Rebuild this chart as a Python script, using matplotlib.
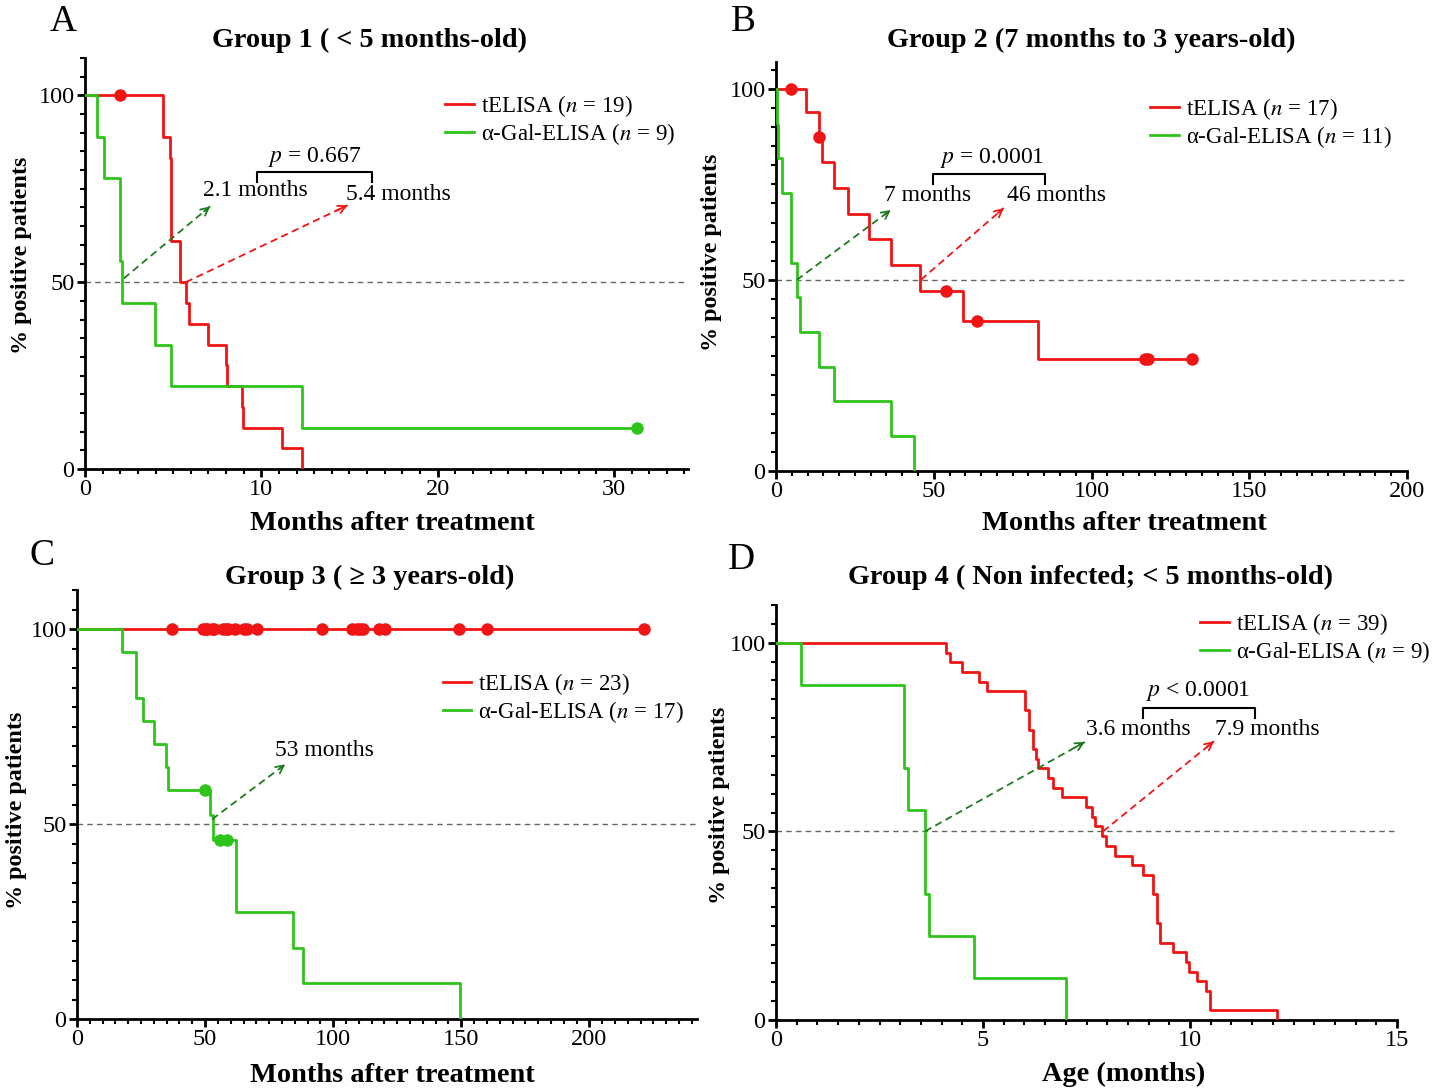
import numpy as np
import matplotlib
matplotlib.use("Agg")
import matplotlib.pyplot as plt

plt.rcParams['font.family'] = ['Liberation Serif', 'DejaVu Serif']
plt.rcParams['mathtext.fontset'] = 'stix'

RED = '#f01414'
GREEN = '#2ec41a'
DKGREEN = '#1f7a1f'

# ---- Group 1 (< 5 months) ----
a_tel_t = [0, 4.44, 4.82, 4.9, 5.38, 5.72, 5.9, 6.95, 8.0, 8.05, 8.91, 8.97, 11.2, 12.3]
a_tel_s = [100, 88.9, 83.3, 61.1, 50.0, 44.4, 38.9, 33.3, 27.8, 22.2, 16.7, 11.1, 5.6, 0]
a_tel_cens_t = [1.98]
a_tel_cens_s = [100]
a_gal_t = [0, 0.66, 1.08, 1.98, 2.08, 3.97, 4.9, 12.3, 31.3]
a_gal_s = [100, 88.9, 77.8, 55.6, 44.4, 33.3, 22.2, 11.1, 11.1]
a_gal_cens_t = [31.3]
a_gal_cens_s = [11.1]

# ---- Group 2 (7 months to 3 years) ----
b_tel_t = [0, 9.5, 13.7, 14.5, 18.5, 22.7, 29.4, 36.6, 45.8, 59.3, 82.9, 131.7]
b_tel_s = [100, 93.8, 87.5, 80.8, 74.0, 67.3, 60.6, 53.8, 47.1, 39.3, 29.4, 29.4]
b_tel_cens_t = [4.65, 13.7, 53.8, 63.7, 116.8, 117.8, 131.7]
b_tel_cens_s = [100, 87.5, 47.1, 39.3, 29.4, 29.4, 29.4]
b_gal_t = [0, 0.4, 0.75, 1.8, 4.65, 6.55, 7.6, 13.7, 18.5, 36.6, 43.7]
b_gal_s = [100, 90.9, 81.8, 72.7, 54.5, 45.5, 36.4, 27.3, 18.2, 9.1, 0]

# ---- Group 3 (>= 3 years) ----
c_tel_t = [0, 221.3]
c_tel_s = [100, 100]
c_tel_cens_t = [37.0, 49.3, 50.2, 50.7, 52.6, 53.5, 57.1, 58.0, 59.1, 61.7, 65.0, 66.3,
                70.2, 95.8, 107.3, 109.3, 110.3, 111.8, 117.7, 120.3, 149.2, 160.2, 221.3]
c_gal_t = [0, 17.7, 22.9, 25.9, 30.1, 34.8, 35.7, 52.0, 52.9, 62.0, 84.2, 88.2, 149.4]
c_gal_s = [100, 94.1, 82.4, 76.5, 70.6, 64.7, 58.8, 52.3, 45.8, 27.5, 18.3, 9.2, 0]
c_gal_cens_t = [50.0, 56.0, 58.5]
c_gal_cens_s = [58.8, 45.8, 45.8]

# ---- Group 4 (non infected, < 5 months) ----
d_tel_t = [0, 4.10, 4.20, 4.50, 4.90, 5.10, 6.01, 6.10, 6.20, 6.27, 6.34, 6.58, 6.68, 6.90,
           7.49, 7.63, 7.71, 7.87, 7.97, 8.19, 8.59, 8.87, 9.10, 9.21, 9.28, 9.60, 9.90,
           9.98, 10.16, 10.39, 10.48, 12.1]
d_tel_s = [100, 97.4, 94.9, 92.3, 89.7, 87.2, 82.1, 76.9, 71.8, 69.2, 66.7, 64.1, 61.5, 59.0,
           56.4, 53.8, 51.3, 48.7, 46.2, 43.6, 41.0, 38.5, 33.3, 25.6, 20.5, 17.9, 15.4,
           12.8, 10.3, 7.7, 2.6, 0]
d_gal_t = [0, 0.6, 3.1, 3.18, 3.6, 3.7, 4.79, 7.0]
d_gal_s = [100, 88.9, 66.7, 55.6, 33.3, 22.2, 11.1, 0]

W, H = 1447, 1089
fig = plt.figure(figsize=(W / 100, H / 100), dpi=100)


def rect(l, r, t, b):
    return [l / W, 1 - b / H, (r - l) / W, (b - t) / H]


def style_axes(ax, xlim, ylim, xmaj, xmin):
    ax.set_xlim(*xlim)
    ax.set_ylim(*ylim)
    for s in ['top', 'right']:
        ax.spines[s].set_visible(False)
    for s in ['left', 'bottom']:
        ax.spines[s].set_linewidth(2)
    ax.set_xticks(np.arange(0, xlim[1] + 1e-6, xmaj))
    ax.set_xticks(np.arange(0, xlim[1] + 1e-6, xmin), minor=True)
    ax.set_yticks([0, 50, 100])
    ax.set_yticks(np.arange(0, ylim[1] + 1e-6, 5), minor=True)
    ax.tick_params(which='major', direction='out', length=6, width=2, labelsize=17.5, pad=1.5)
    ax.tick_params(which='minor', direction='out', length=3.5, width=1.5)
    ax.axhline(50, color='#666666', lw=1, ls=(0, (4, 3)), zorder=1)


def km(ax, t, s, color, label):
    ax.plot(t, s, drawstyle='steps-post', color=color, lw=2, label=label, zorder=3)


def cens(ax, t, s, color):
    ax.plot(t, s, 'o', color=color, ms=8, zorder=4, linestyle='none')


def median_arrow(ax, start, end, color, text, tx, ty):
    ax.plot([start[0], end[0]], [start[1], end[1]], color=color, lw=1.3, ls=(0, (4, 2.5)), zorder=5)
    fx = start[0] + 0.93 * (end[0] - start[0])
    fy = start[1] + 0.93 * (end[1] - start[1])
    ax.annotate('', xy=end, xytext=(fx, fy),
                arrowprops=dict(arrowstyle='->', color=color, lw=1.3, mutation_scale=14,
                                shrinkA=0, shrinkB=0), zorder=5)
    ax.text(tx, ty, text, fontsize=17, ha='center', va='center', zorder=6)


def bracket(ax, x0, x1, y, ylow, ptext, px, py):
    ax.plot([x0, x0, x1, x1], [ylow, y, y, ylow], color='black', lw=1.5, zorder=5)
    ax.text(px, py, ptext, fontsize=17, ha='center', va='center')


def legend(ax, x, y):
    ax.legend(loc='upper left', bbox_to_anchor=(x, y), frameon=False, fontsize=16.5,
              handlelength=1.25, handletextpad=0.3, borderpad=0, borderaxespad=0,
              labelspacing=0.08)


# Panel A
axA = fig.add_axes(rect(85, 688, 58, 469))
style_axes(axA, (0, 34.2), (0, 110), 10, 1)
km(axA, a_tel_t, a_tel_s, RED, 'tELISA ($n$ = 19)')
km(axA, a_gal_t, a_gal_s, GREEN, 'α-Gal-ELISA ($n$ = 9)')
cens(axA, a_tel_cens_t, a_tel_cens_s, RED)
cens(axA, a_gal_cens_t, a_gal_cens_s, GREEN)
median_arrow(axA, (2.2, 51), (7.1, 70.3), DKGREEN, '2.1 months', 9.65, 74.6)
median_arrow(axA, (5.72, 50), (14.9, 70.6), RED, '5.4 months', 17.8, 73.5)
bracket(axA, 9.73, 16.3, 79.5, 76.8, '$p$ = 0.667', 13.0, 83.5)
legend(axA, 0.597, 0.915)

# Panel B
axB = fig.add_axes(rect(776, 1407, 62, 471))
style_axes(axB, (0, 200), (0, 107), 50, 5)
km(axB, b_tel_t, b_tel_s, RED, 'tELISA ($n$ = 17)')
km(axB, b_gal_t, b_gal_s, GREEN, 'α-Gal-ELISA ($n$ = 11)')
cens(axB, b_tel_cens_t, b_tel_cens_s, RED)
median_arrow(axB, (6.6, 50), (36.4, 68.3), DKGREEN, '7 months', 48.1, 72)
median_arrow(axB, (45.9, 50), (72.2, 68.8), RED, '46 months', 89, 72)
bracket(axB, 49.7, 85.2, 77.7, 75.1, '$p$ = 0.0001', 68.4, 82)
legend(axB, 0.593, 0.916)

# Panel C
axC = fig.add_axes(rect(77, 697, 590, 1019))
style_axes(axC, (0, 242), (0, 110), 50, 5)
km(axC, c_tel_t, c_tel_s, RED, 'tELISA ($n$ = 23)')
km(axC, c_gal_t, c_gal_s, GREEN, 'α-Gal-ELISA ($n$ = 17)')
cens(axC, c_tel_cens_t, [100] * len(c_tel_cens_t), RED)
cens(axC, c_gal_cens_t, c_gal_cens_s, GREEN)
median_arrow(axC, (52.7, 51.2), (81.3, 65.3), DKGREEN, '53 months', 96.5, 68.9)
legend(axC, 0.590, 0.81)

# Panel D
axD = fig.add_axes(rect(776, 1397, 605, 1020))
style_axes(axD, (0, 15), (0, 110), 5, 0.5)
km(axD, d_tel_t, d_tel_s, RED, 'tELISA ($n$ = 39)')
km(axD, d_gal_t, d_gal_s, GREEN, 'α-Gal-ELISA ($n$ = 9)')
median_arrow(axD, (3.6, 50), (7.46, 73.7), DKGREEN, '3.6 months', 8.74, 76.9)
median_arrow(axD, (7.9, 50), (10.58, 73.9), RED, '7.9 months', 11.86, 76.9)
bracket(axD, 8.86, 11.57, 82.7, 80.0, '$p$ < 0.0001', 10.2, 87.3)
legend(axD, 0.683, 0.985)

# titles, letters, axis labels
def ftext(x, y, s, **kw):
    fig.text(x / W, 1 - y / H, s, ha='center', va='center', **kw)


ftext(370, 40, 'Group 1 ( < 5 months-old)', fontsize=20.3, fontweight='bold')
ftext(1091, 40, 'Group 2 (7 months to 3 years-old)', fontsize=20.3, fontweight='bold')
ftext(370, 577, 'Group 3 ( ≥ 3 years-old)', fontsize=20.3, fontweight='bold')
ftext(1091, 577, 'Group 4 ( Non infected; < 5 months-old)', fontsize=20.3, fontweight='bold')

ftext(63, 22, 'A', fontsize=27)
ftext(743, 22, 'B', fontsize=27)
ftext(42, 556, 'C', fontsize=27)
ftext(741, 560, 'D', fontsize=27)

ftext(392, 524, 'Months after treatment', fontsize=20.4, fontweight='bold')
ftext(1124, 524, 'Months after treatment', fontsize=20.4, fontweight='bold')
ftext(392, 1076, 'Months after treatment', fontsize=20.4, fontweight='bold')
ftext(1124, 1074, 'Age (months)', fontsize=20.4, fontweight='bold')

ftext(22, 255, '% positive patients', fontsize=17.4, fontweight='bold', rotation=90)
ftext(712, 252, '% positive patients', fontsize=17.4, fontweight='bold', rotation=90)
ftext(17, 810, '% positive patients', fontsize=17.4, fontweight='bold', rotation=90)
ftext(720, 805, '% positive patients', fontsize=17.4, fontweight='bold', rotation=90)

fig.savefig('out.png', dpi=100)
